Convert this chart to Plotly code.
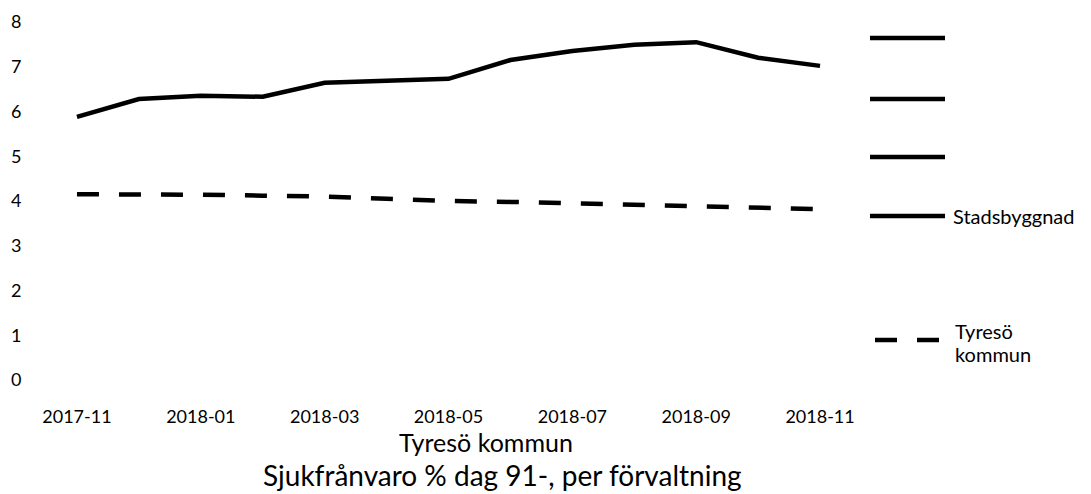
import plotly.graph_objects as go

months = ["2017-11", "2017-12", "2018-01", "2018-02", "2018-03", "2018-04", "2018-05",
          "2018-06", "2018-07", "2018-08", "2018-09", "2018-10", "2018-11"]
stadsbyggnad = [5.88, 6.28, 6.35, 6.33, 6.64, 6.69, 6.73, 7.15, 7.35, 7.49, 7.55, 7.20, 7.02]
tyreso = [4.15, 4.15, 4.14, 4.12, 4.10, 4.05, 4.00, 3.98, 3.95, 3.92, 3.87, 3.85, 3.82]
x_ticks = ["2017-11", "2018-01", "2018-03", "2018-05", "2018-07", "2018-09", "2018-11"]
y_ticks = [0, 1, 2, 3, 4, 5, 6, 7, 8]
title_lines = ["Tyresö kommun", "Sjukfrånvaro % dag 91-, per förvaltning"]
legend_names = ["", "", "", "Stadsbyggnad", "Tyresö", "kommun"]

FONT = "Lato"
W, H = 1091, 494
# plot area in page pixels: x 46..851, y 22..380
L, T = 46, 22
R = W - 851
B = H - 380
pw, ph = W - L - R, H - T - B

def px(x):
    return (x - L) / pw

def py(y):
    return (H - B - y) / ph

fig = go.Figure()
fig.add_trace(go.Scatter(x=months, y=stadsbyggnad, mode="lines", name="Stadsbyggnad",
                         line=dict(color="black", width=4.5), showlegend=False))
fig.add_trace(go.Scatter(x=months, y=tyreso, mode="lines", name="Tyresö kommun",
                         line=dict(color="black", width=4.5, dash="22px,20px"), showlegend=False))

shapes = []
annotations = []
leg_font = dict(family=FONT, size=20, color="black")
leg_y = [38, 99, 157, 216]
for i, yy in enumerate(leg_y):
    shapes.append(dict(type="line", xref="paper", yref="paper", x0=px(870), x1=px(945),
                       y0=py(yy), y1=py(yy), line=dict(color="black", width=4.5)))
    if legend_names[i]:
        annotations.append(dict(xref="paper", yref="paper", x=px(951), y=py(yy), xanchor="left",
                                yanchor="middle", text=legend_names[i], showarrow=False,
                                font=leg_font))
shapes.append(dict(type="line", xref="paper", yref="paper", x0=px(875), x1=px(942),
                   y0=py(340), y1=py(340), line=dict(color="black", width=4.5, dash="22px,20px")))
annotations.append(dict(xref="paper", yref="paper", x=px(953), y=py(331), xanchor="left",
                        yanchor="middle", text=legend_names[4], showarrow=False, font=leg_font))
annotations.append(dict(xref="paper", yref="paper", x=px(953), y=py(354), xanchor="left",
                        yanchor="middle", text=legend_names[5], showarrow=False, font=leg_font))
# titles
annotations.append(dict(xref="paper", yref="paper", x=px(486), y=py(442), xanchor="center",
                        yanchor="middle", text=title_lines[0], showarrow=False,
                        font=dict(family=FONT, size=25, color="black")))
annotations.append(dict(xref="paper", yref="paper", x=px(502), y=py(475), xanchor="center",
                        yanchor="middle", text=title_lines[1], showarrow=False,
                        font=dict(family=FONT, size=28, color="black")))

fig.update_layout(
    width=W, height=H,
    margin=dict(l=L, r=R, t=T, b=B, pad=0, autoexpand=False),
    paper_bgcolor="white", plot_bgcolor="white",
    showlegend=False,
    shapes=shapes, annotations=annotations,
    xaxis=dict(type="category", range=[-0.5, len(months) - 0.5], tickmode="array",
               tickvals=x_ticks, ticktext=x_ticks, showgrid=False, zeroline=False,
               showline=False, ticks="outside", ticklen=20, tickcolor="rgba(0,0,0,0)",
               automargin=False,
               tickfont=dict(family=FONT, size=18, color="black")),
    yaxis=dict(range=[0, 8], tickmode="array", tickvals=y_ticks, showgrid=False,
               zeroline=False, showline=False, ticks="outside", ticklen=20,
               tickcolor="rgba(0,0,0,0)", automargin=False,
               tickfont=dict(family=FONT, size=18, color="black")),
)

fig.write_html("out.html", config={"displayModeBar": False},
               post_script="document.body.style.margin='0';")
